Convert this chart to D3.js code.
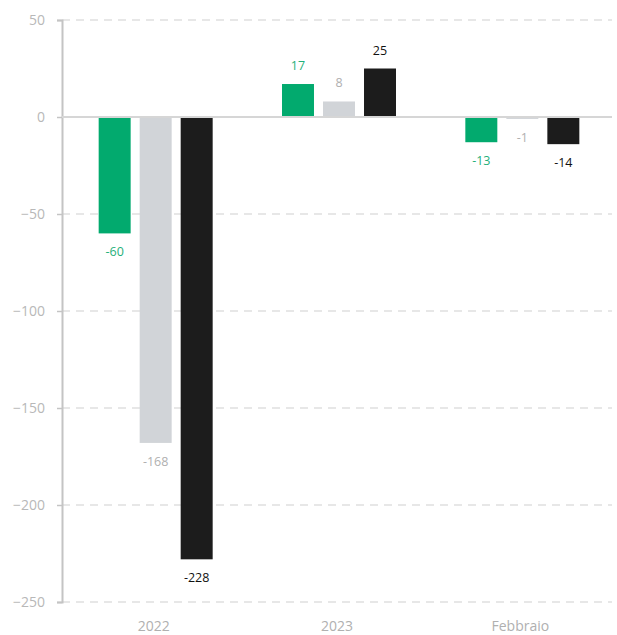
<!DOCTYPE html>
<html>
<head>
<meta charset="utf-8">
<script src="https://cdn.jsdelivr.net/npm/d3@7"></script>
<style>
  body { margin: 0; background: #fff; }
  text { font-family: "Open Sans", "Noto Sans", sans-serif; }
</style>
</head>
<body>
<div id="chart"></div>
<script>
// data
var categories = ["2022", "2023", "Febbraio"];
var seriesNames = ["A", "B", "C"];
var seriesA = [-60, 17, -13];
var seriesB = [-168, 8, -1];
var seriesC = [-228, 25, -14];
var yTicks = [50, 0, -50, -100, -150, -200, -250];

var colors = ["#02aa6e", "#d1d4d8", "#1c1c1c"];
var labelColors = ["#1fb07a", "#b0b0b0", "#111111"];

var width = 617, height = 635;
var margin = {top: 20, right: 5, bottom: 33, left: 62};
var innerW = width - margin.left - margin.right,
  innerH = height - margin.top - margin.bottom;
var groupW = 114;

var svg = d3.select("#chart")
  .append("svg")
  .attr("width", width)
  .attr("height", height)
  .append("g")
  .attr("transform", "translate(" + margin.left + "," + margin.top + ")");

var y = d3.scaleLinear()
  .domain([-250, 50])
  .range([innerH, 0]);

var x0 = d3.scaleBand()
  .domain(categories)
  .range([0, innerW]);

var x1 = d3.scaleBand()
  .domain(seriesNames)
  .range([0, groupW])
  .paddingInner(0.22)
  .paddingOuter(0);

// grid lines
svg.selectAll(".grid")
  .data(yTicks.filter(function(d) { return d !== 0; }))
  .enter()
  .append("line")
  .attr("x1", 0)
  .attr("x2", innerW)
  .attr("y1", function(d) { return y(d); })
  .attr("y2", function(d) { return y(d); })
  .attr("stroke", "#e0e0e0")
  .attr("stroke-width", 1.5)
  .attr("stroke-dasharray", "8,6");

// y axis
var yAxis = svg.append("g")
  .call(d3.axisLeft(y).tickValues(yTicks).tickSize(5).tickPadding(12));
yAxis.select(".domain").attr("stroke", "#c4c4c4").attr("stroke-width", 2);
yAxis.selectAll(".tick line").attr("stroke", "#c4c4c4").attr("stroke-width", 1.5);
yAxis.selectAll("text")
  .attr("fill", "#b8b8b8")
  .style("font-size", "14px");

var rows = categories.map(function(c, i) {
  return {cat: c, vals: [seriesA[i], seriesB[i], seriesC[i]]};
});

var groups = svg.selectAll(".grp")
  .data(rows)
  .enter()
  .append("g")
  .attr("transform", function(d) {
    return "translate(" + (x0(d.cat) + (x0.bandwidth() - groupW) / 2 + 2) + ",0)";
  });

var cells = groups.selectAll("g")
  .data(function(d) {
    return d.vals.map(function(v, j) { return {key: seriesNames[j], value: v, j: j}; });
  })
  .enter()
  .append("g");

cells.append("rect")
  .attr("x", function(d) { return x1(d.key); })
  .attr("width", x1.bandwidth())
  .attr("y", function(d) { return y(Math.max(0, d.value)); })
  .attr("height", function(d) { return Math.abs(y(d.value) - y(0)); })
  .attr("fill", function(d) { return colors[d.j]; });

// zero line
svg.append("line")
  .attr("x1", 0)
  .attr("x2", innerW)
  .attr("y1", y(0))
  .attr("y2", y(0))
  .attr("stroke", "#d6d6d6")
  .attr("stroke-width", 2);

// value labels
cells.append("text")
  .attr("x", function(d) { return x1(d.key) + x1.bandwidth() / 2; })
  .attr("y", function(d) {
    return d.value >= 0 ? y(d.value) - 14 : y(d.value) + 23;
  })
  .attr("text-anchor", "middle")
  .attr("fill", function(d) { return labelColors[d.j]; })
  .style("font-size", "12.5px")
  .text(function(d) { return d.value; });

// x labels
svg.append("g")
  .selectAll("text")
  .data(categories)
  .enter()
  .append("text")
  .attr("x", function(d) { return x0(d) + x0.bandwidth() / 2; })
  .attr("y", innerH + 29)
  .attr("text-anchor", "middle")
  .attr("fill", "#b0b0b0")
  .style("font-size", "14px")
  .text(function(d) { return d; });
</script>
</body>
</html>
